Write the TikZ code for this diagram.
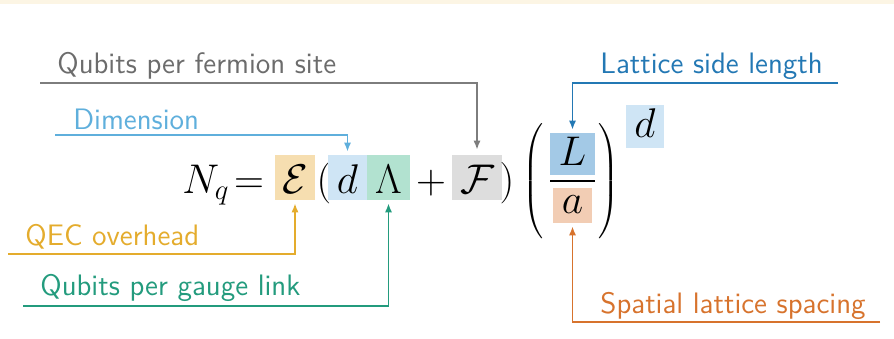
\documentclass[tikz,border=0pt]{standalone}
\usepackage{amsmath}
\usetikzlibrary{arrows.meta,calc}
\definecolor{topcream}{RGB}{252,245,228}
\definecolor{fermtext}{RGB}{108,108,108}
\definecolor{fermline}{RGB}{125,125,125}
\definecolor{fermbox}{RGB}{221,221,221}
\definecolor{dimtext}{RGB}{95,175,220}
\definecolor{dimbox}{RGB}{207,229,245}
\definecolor{sidetext}{RGB}{35,120,180}
\definecolor{sidebox}{RGB}{163,201,230}
\definecolor{qectext}{RGB}{228,172,45}
\definecolor{qecbox}{RGB}{246,222,176}
\definecolor{gaugetext}{RGB}{35,155,125}
\definecolor{gaugebox}{RGB}{178,226,208}
\definecolor{spacetext}{RGB}{215,115,45}
\definecolor{spacebox}{RGB}{242,205,180}
\newcommand{\eqfont}{\fontsize{20.5}{24}\selectfont}
\newcommand{\tallrule}{\vrule height 25.5pt depth 25.5pt width 0pt}

\begin{document}
\begin{tikzpicture}[
  x=0.5pt, y=-0.5pt,
  sym/.style={
    inner sep=0pt,
    anchor=base,
    font=\eqfont
  },
  term/.style={sym,minimum width=#1},
  eqrow/.style={text height=19pt,text depth=3.5pt},
  paren/.style={
    inner sep=0pt,
    font=\fontsize{12}{14}\selectfont
  },
  lbl/.style={
    inner sep=0pt,
    anchor=base west,
    font=\sffamily\fontsize{14.8}{17}\selectfont
  },
  conn/.style={
    line width=0.8pt,
    -{Latex[length=4.5pt,width=3.6pt]}
  }
]
\useasboundingbox (0,0) rectangle (894,338);
\fill[topcream] (0,0) rectangle (894,4);

\node[sym] (nq) at (206,193) {$N_q$};
\node[sym] (eq) at (249,193) {$=$};
\node[term=20pt,eqrow,fill=qecbox] (qec) at (295,193) {$\mathcal{E}$};
\node[sym] (lp) at (324,193) {$($};
\node[term=19.5pt,eqrow,fill=dimbox] (dim) at (347.5,193) {$d$};
\node[term=21.5pt,eqrow,fill=gaugebox] (gauge) at (388.5,193) {$\Lambda$};
\node[sym] (plus) at (431,193) {$+$};
\node[term=25pt,eqrow,fill=fermbox] (ferm) at (477,193) {$\mathcal{F}$};
\node[sym] (rp) at (507,193) {$)$};

\node[paren] (biglp) at (533,181)
  {$\nulldelimiterspace=0pt\left(\tallrule\right.$};
\node[term=22.5pt,text height=16pt,text depth=5pt,fill=sidebox]
  (side) at (572.5,165) {$L$};
\draw[line width=1pt] (550,181) -- (595,181);
\node[term=19.5pt,text height=12.5pt,text depth=5pt,fill=spacebox]
  (space) at (572.5,213) {$a$};
\node[paren] (bigrp) at (609,181)
  {$\nulldelimiterspace=0pt\left.\tallrule\right)$};
\node[term=19pt,text height=16pt,text depth=5.5pt,fill=dimbox]
  (power) at (645,137) {$d$};

\node[lbl,text=fermtext] (fermlbl) at (57,73) {Qubits per fermion site};
\node[lbl,text=dimtext] (dimlbl) at (73,129) {Dimension};
\node[lbl,text=sidetext] (sidelbl) at (600,73) {Lattice side length};
\node[lbl,text=qectext] (qeclbl) at (25,245) {QEC overhead};
\node[lbl,text=gaugetext] (gaugelbl) at (40,295) {Qubits per gauge link};
\node[lbl,text=spacetext] (spacelbl) at (600,313) {Spatial lattice spacing};

\coordinate (fermin) at (40,83);
\coordinate (dimin) at (55,135);
\coordinate (sidein) at (838,83);
\coordinate (qecin) at (8,254);
\coordinate (gaugein) at (23,306);
\coordinate (spacein) at (880,322);

\draw[conn,fermline,shorten >=2.5pt] (fermin) -| (ferm.north);
\draw[conn,dimtext,shorten >=1.5pt] (dimin) -| (dim.north);
\draw[conn,sidetext,shorten >=1.5pt] (sidein) -| (side.north);
\draw[conn,qectext,shorten >=1.5pt] (qecin) -| (qec.south);
\draw[conn,gaugetext,shorten >=1.5pt] (gaugein) -| (gauge.south);
\draw[conn,spacetext,shorten >=1.5pt] (spacein) -| (space.south);
\end{tikzpicture}
\end{document}
